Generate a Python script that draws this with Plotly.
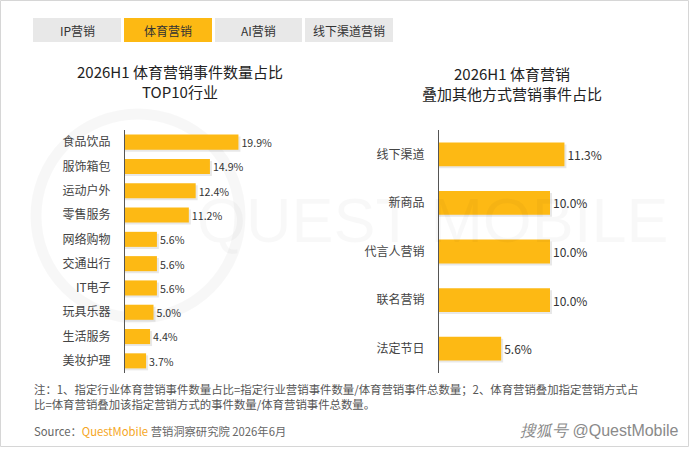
import plotly.graph_objects as go

# ---------------- data ----------------
tabs = ["IP营销", "体育营销", "AI营销", "线下渠道营销"]
active_tab = "体育营销"

left_title = "2026H1 体育营销事件数量占比<br>TOP10行业"
left_cats = ["食品饮品", "服饰箱包", "运动户外", "零售服务", "网络购物",
             "交通出行", "IT电子", "玩具乐器", "生活服务", "美妆护理"]
left_vals = [19.9, 14.9, 12.4, 11.2, 5.6, 5.6, 5.6, 5.0, 4.4, 3.7]

right_title = "2026H1 体育营销<br>叠加其他方式营销事件占比"
right_cats = ["线下渠道", "新商品", "代言人营销", "联名营销", "法定节日"]
right_vals = [11.3, 10.0, 10.0, 10.0, 5.6]

note_text = ("注：1、指定行业体育营销事件数量占比=指定行业营销事件数量/体育营销事件总数量；2、体育营销叠加指定营销方式占"
             "<br>比=体育营销叠加该指定营销方式的事件数量/体育营销事件总数量。")
source_prefix = "Source："
source_brand = "QuestMobile"
source_rest = " 营销洞察研究院 2026年6月"
platform_mark = "@QuestMobile"
platform_name = "搜狐号"
watermark = "QUEST MOBILE"

# ---------------- layout helpers ----------------
W, H = 690, 449
FONT = "Noto Sans CJK SC"
BAR = "#FDB914"
SHADOW = "rgba(0,0,0,0.09)"


def px(x):
    return x / W


def py(y):
    return 1 - y / H


fig = go.Figure()

# soft drop shadows (drawn first, slightly right / below the bars)
for vals, cats, w, step, xa, ya, k in [
    (left_vals, left_cats, 0.62, 24.3, "x", "y", 5.7),
    (right_vals, right_cats, 0.49, 48.6, "x2", "y2", 11.1),
]:
    fig.add_trace(go.Bar(
        x=[v + 2.0 / k for v in vals], y=cats, orientation="h",
        marker=dict(color=SHADOW, line=dict(width=0)),
        width=w, offset=-w / 2 + 2.0 / step,
        xaxis=xa, yaxis=ya, hoverinfo="skip",
    ))

fig.add_trace(go.Bar(
    x=left_vals, y=left_cats, orientation="h",
    marker=dict(color=BAR, line=dict(width=0)),
    width=0.62,
    texttemplate="%{x:.1f}%", textposition="outside",
    textfont=dict(size=12, color="#333333", family=FONT),
    cliponaxis=False, xaxis="x", yaxis="y", hoverinfo="skip",
))
fig.add_trace(go.Bar(
    x=right_vals, y=right_cats, orientation="h",
    marker=dict(color=BAR, line=dict(width=0)),
    width=0.49,
    texttemplate="%{x:.1f}%", textposition="outside",
    textfont=dict(size=12, color="#333333", family=FONT),
    cliponaxis=False, xaxis="x2", yaxis="y2", hoverinfo="skip",
))

axis_common_x = dict(showgrid=False, zeroline=False, showline=False,
                     showticklabels=False, ticks="", fixedrange=True)
axis_common_y = dict(showgrid=False, zeroline=False, showline=True,
                     linecolor="#555555", linewidth=1, ticks="",
                     ticklabelstandoff=11,
                     tickfont=dict(size=12, color="#444444", family=FONT),
                     type="category", fixedrange=True)

fig.update_layout(
    width=W, height=H,
    margin=dict(l=0, r=0, t=0, b=0),
    paper_bgcolor="white", plot_bgcolor="rgba(0,0,0,0)",
    showlegend=False, barmode="overlay",
    font=dict(family=FONT, color="#333333"),
    xaxis=dict(domain=[px(125), px(305)], range=[0, 180 / 5.7], anchor="y", **axis_common_x),
    yaxis=dict(domain=[py(373), py(130)], range=[len(left_cats) - 0.5, -0.5],
               anchor="x", categoryorder="array", categoryarray=left_cats, **axis_common_y),
    xaxis2=dict(domain=[px(439), px(660)], range=[0, 221 / 11.1], anchor="y2", **axis_common_x),
    yaxis2=dict(domain=[py(373), py(130)], range=[len(right_cats) - 0.5, -0.5],
                anchor="x2", categoryorder="array", categoryarray=right_cats, **axis_common_y),
)

shapes = []
annotations = []

# outer frame
shapes.append(dict(type="rect", xref="paper", yref="paper",
                   x0=px(0.5), x1=px(688.5), y0=py(446.5), y1=py(0.5),
                   line=dict(color="#D6D6D6", width=1), fillcolor="rgba(0,0,0,0)", layer="below"))

# watermark circle
shapes.append(dict(type="circle", xref="paper", yref="paper",
                   x0=px(36), x1=px(240), y0=py(318), y1=py(114),
                   line=dict(color="rgba(0,0,0,0.03)", width=11), layer="below"))

# tabs
tab_x = [(33, 121), (124, 212), (215, 302), (305, 393)]
for name, (a, b) in zip(tabs, tab_x):
    active = name == active_tab
    shapes.append(dict(type="rect", xref="paper", yref="paper",
                       x0=px(a), x1=px(b), y0=py(42), y1=py(18),
                       line=dict(width=0),
                       fillcolor="#FDB913" if active else "#E8E8E8", layer="below"))
    annotations.append(dict(text=name, xref="paper", yref="paper",
                            x=px((a + b) / 2), y=py(30), showarrow=False,
                            xanchor="center", yanchor="middle",
                            font=dict(size=12, color="#333333", family=FONT)))

# watermark text
annotations.append(dict(text=watermark, xref="paper", yref="paper",
                        x=px(432), y=py(220), showarrow=False,
                        xanchor="center", yanchor="middle",
                        font=dict(size=63, color="rgba(0,0,0,0.028)", family="Liberation Sans")))

# chart titles
annotations.append(dict(text=left_title, xref="paper", yref="paper",
                        x=px(180), y=py(82), showarrow=False,
                        xanchor="center", yanchor="middle", align="center",
                        font=dict(size=15, color="#222222", family=FONT)))
annotations.append(dict(text=right_title, xref="paper", yref="paper",
                        x=px(512), y=py(83), showarrow=False,
                        xanchor="center", yanchor="middle", align="center",
                        font=dict(size=15, color="#222222", family=FONT)))

# footnote
annotations.append(dict(text=note_text, xref="paper", yref="paper",
                        x=px(32), y=py(396), showarrow=False,
                        xanchor="left", yanchor="middle", align="left",
                        font=dict(size=11.4, color="#555555", family=FONT)))
annotations.append(dict(text=source_prefix + f"<span style='color:#F5A623'>{source_brand}</span>" + source_rest,
                        xref="paper", yref="paper",
                        x=px(32), y=py(431), showarrow=False,
                        xanchor="left", yanchor="middle", align="left",
                        font=dict(size=11.3, color="#666666", family=FONT)))
annotations.append(dict(text=f"<i>{platform_name}</i> {platform_mark}",
                        xref="paper", yref="paper",
                        x=px(681), y=py(430), showarrow=False,
                        xanchor="right", yanchor="middle", align="right",
                        font=dict(size=16, color="#8A8A8A", family="Liberation Sans")))

fig.update_layout(shapes=shapes, annotations=annotations)

fig.write_html("out.html", config={"displayModeBar": False},
               post_script="document.body.style.margin='0';document.body.style.overflow='hidden';")
